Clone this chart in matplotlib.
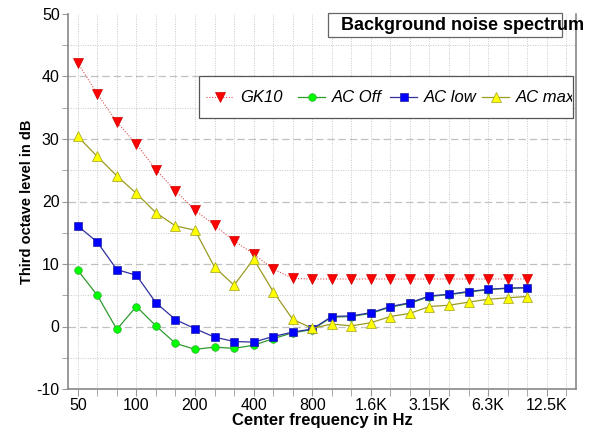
import matplotlib
matplotlib.use("Agg")
import matplotlib.pyplot as plt
from matplotlib.patches import Rectangle
from matplotlib.lines import Line2D
from matplotlib.transforms import Bbox

plt.rcParams['font.family'] = ['Liberation Sans', 'DejaVu Sans']
plt.rcParams['axes.unicode_minus'] = False

categories = ["50", "63", "80", "100", "125", "160", "200", "250", "315", "400", "500", "630",
              "800", "1K", "1.25K", "1.6K", "2K", "2.5K", "3.15K", "4K", "5K", "6.3K", "8K", "10K",
              "12.5K", "16K"]
tick_labels = ["50", "100", "200", "400", "800", "1.6K", "3.15K", "6.3K", "12.5K"]

gk10 = [42.2, 37.2, 32.7, 29.2, 25.1, 21.7, 18.6, 16.2, 13.7, 11.6, 9.2, 7.7,
        7.6, 7.6, 7.6, 7.6, 7.6, 7.6, 7.6, 7.6, 7.6, 7.6, 7.6, 7.6]
ac_off = [9.0, 5.0, -0.45, 3.2, 0.1, -2.7, -3.65, -3.3, -3.5, -3.0, -1.95, -1.0,
          -0.5, 1.5, 1.6, 2.1, 3.1, 3.7, 4.8, 5.1, 5.5, 5.9, 6.1, 6.2]
ac_low = [16.1, 13.5, 9.1, 8.2, 3.8, 1.1, -0.35, -1.7, -2.4, -2.5, -1.6, -0.9,
          -0.4, 1.6, 1.7, 2.2, 3.2, 3.8, 4.9, 5.15, 5.6, 5.95, 6.15, 6.2]
ac_max = [30.4, 27.2, 24.1, 21.3, 18.2, 16.1, 15.4, 9.5, 6.6, 10.8, 5.6, 1.15,
          -0.3, 0.4, 0.1, 0.6, 1.6, 2.1, 3.2, 3.4, 3.9, 4.35, 4.6, 4.8]

W, H = 595, 432
fig = plt.figure(figsize=(W/100, H/100), dpi=100)
ax = fig.add_axes([68/W, 1 - 389/H, (576-68)/W, (389-14)/H])

styles = [
    dict(color='#e05050', lw=0.8, ls=(0, (1, 1.5)), marker='v', ms=6.5,
         mfc='#ff0000', mec='#cc0000', mew=0.5),
    dict(color='#2e9a2e', lw=0.9, ls='-', marker='o', ms=5.5,
         mfc='#00ff00', mec='#33aa33', mew=0.5),
    dict(color='#3030a0', lw=0.9, ls='-', marker='s', ms=5.6,
         mfc='#0000ff', mec='#2020a0', mew=0.5),
    dict(color='#9a9a20', lw=0.9, ls='-', marker='^', ms=6.5,
         mfc='#ffff00', mec='#a0a020', mew=0.5),
]
names = ['GK10', 'AC Off', 'AC low', 'AC max']
series = [gk10, ac_off, ac_low, ac_max]

for k, (vals, st) in enumerate(zip(series, styles)):
    ax.plot(range(len(vals)), vals, zorder=3 + k, **st)

ax.set_xlim(-0.5, 25.5)
ax.set_ylim(-10, 50)

# grid
for i in range(26):
    ax.axvline(i, color='#c8c8c8', lw=0.7, ls=(0, (1, 1.5)), zorder=0)
for v in range(-5, 50, 5):
    if v % 10 == 0:
        ax.axhline(v, color='#c0c0c0', lw=0.9, ls=(0, (6, 3)), zorder=0)
    else:
        ax.axhline(v, color='#c8c8c8', lw=0.7, ls=(0, (1, 1.5)), zorder=0)

ax.set_xticks(range(26), minor=True)
ax.set_xticks([categories.index(t) for t in tick_labels])
ax.set_xticklabels(tick_labels)
ax.set_yticks(range(-10, 51, 10))
ax.set_yticks(range(-10, 51, 5), minor=True)
ax.tick_params(axis='x', which='both', length=5, color='#999999', direction='out',
               labelsize=11.5, pad=1.5)
ax.tick_params(axis='y', which='both', length=4, color='#999999', direction='out',
               labelsize=11.5, pad=2)

for s in ['left', 'bottom', 'right']:
    ax.spines[s].set_color('#888888')
    ax.spines[s].set_linewidth(1.2)
ax.spines['top'].set_visible(False)

ax.set_xlabel('Center frequency in Hz', fontsize=12, fontweight='bold', labelpad=0)
ax.set_ylabel('Third octave level in dB', fontsize=10.5, fontweight='bold', labelpad=2)

# legend (manual, fixed column width like the original)
ax.add_patch(Rectangle((199/W, 1-118/H), (573-199)/W, 42/H,
                       transform=fig.transFigure, facecolor='white',
                       edgecolor='#555555', lw=0.9, zorder=11, clip_on=False))
ly = 1 - 97/H
clip = Bbox.from_extents(0, 0, 572, H)
for k, (name, st) in enumerate(zip(names, styles)):
    x0 = 206 + 92*k
    line_st = {key: v for key, v in st.items() if key not in ('marker', 'ms', 'mfc', 'mec', 'mew')}
    ln = Line2D([x0/W, (x0+27)/W], [ly, ly], transform=fig.transFigure, zorder=12, **line_st)
    mk = Line2D([(x0+13.5)/W], [ly], transform=fig.transFigure, zorder=13, ls='none',
                marker=st['marker'], ms=st['ms'], mfc=st['mfc'], mec=st['mec'], mew=st['mew'])
    fig.add_artist(ln)
    fig.add_artist(mk)
    tx = fig.text((x0+34)/W, ly, name, fontsize=12, style='italic', va='center',
                  ha='left', zorder=13)
    tx.set_clip_box(clip)
    tx.set_clip_on(True)

# title box
fig.patches.append(Rectangle((328/W, 1-37/H), (562-328)/W, 24/H,
                             transform=fig.transFigure, facecolor='white',
                             edgecolor='#666666', lw=0.9, zorder=10))
t = fig.text(341/W, 1-26/H, 'Background noise spectrum', fontsize=13,
             fontweight='bold', va='center', ha='left', zorder=11)
t.set_clip_box(Bbox.from_extents(0, 0, 583, H))
t.set_clip_on(True)

fig.savefig('out.png', dpi=100)
